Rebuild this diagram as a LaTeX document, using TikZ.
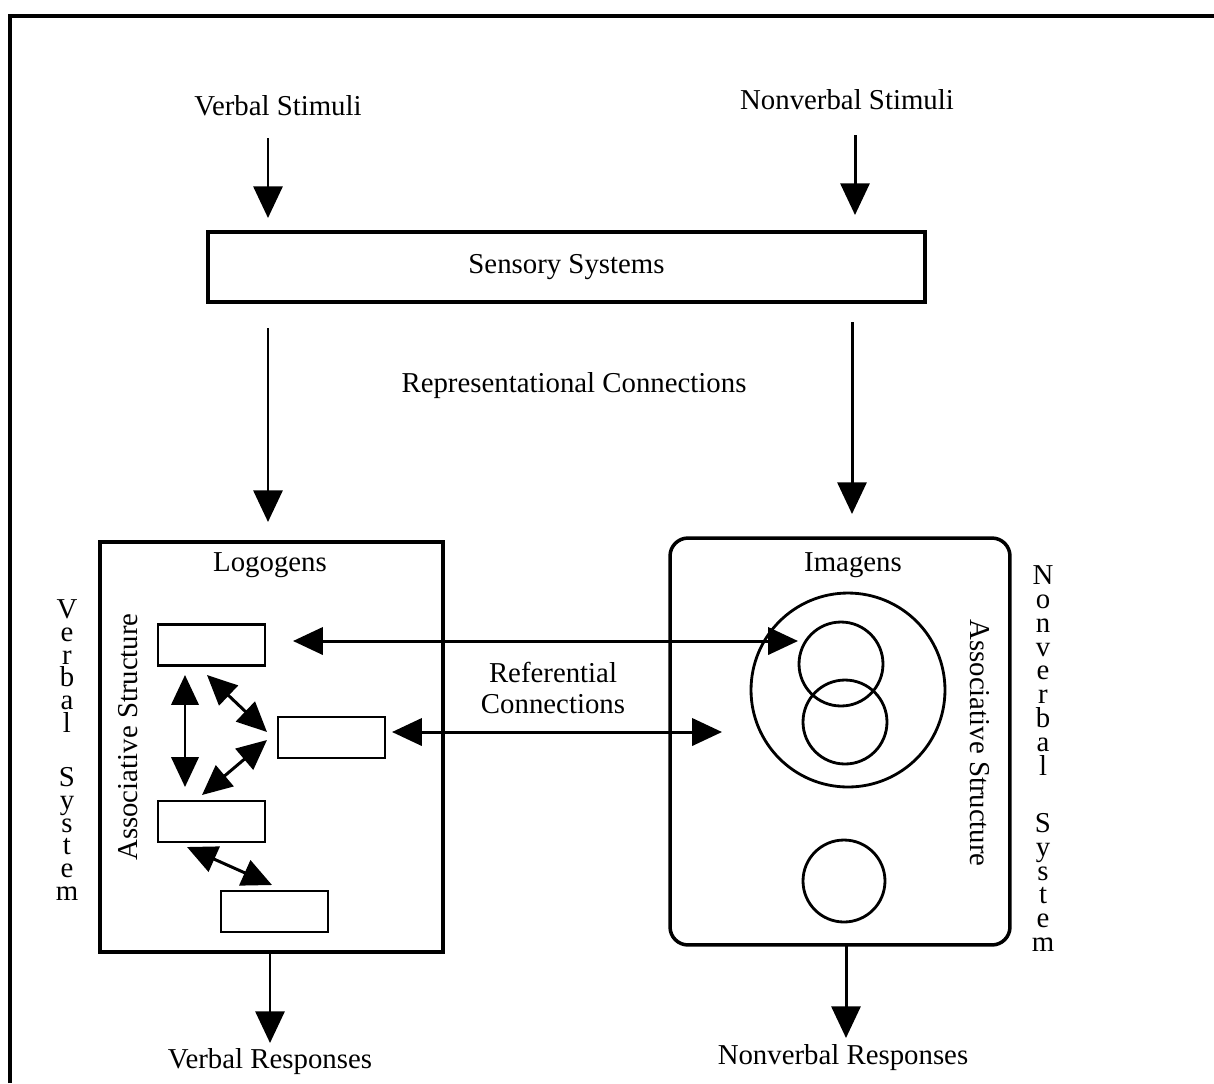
\documentclass[tikz,border=0pt]{standalone}
\usepackage{fontspec}
\setmainfont{Liberation Serif}
\usetikzlibrary{arrows.meta}
\begin{document}
\begin{tikzpicture}[x=0.02cm, y=-0.02cm, line width=1.7pt,
  font=\fontsize{16.4}{17.6}\selectfont,
  arr/.style={-{Triangle[length=18pt, width=16.5pt]}},
  darr/.style={{Triangle[length=17pt, width=15.5pt]}-{Triangle[length=17pt, width=15.5pt]}},
  unit/.style={draw, line width=1.6pt, minimum width=2.14cm, minimum height=0.82cm, inner sep=0pt},
  imagen/.style={circle, draw, line width=1.6pt, inner sep=0pt},
  column/.style={anchor=north, align=center, inner sep=0pt}]
  \useasboundingbox (0,0) rectangle (1214,1083);
  % Rahmen
  \draw[line width=2.3pt] (10,1083) -- (10,16) -- (1214,16);
  % Reize und sensorisches System
  \node (vstim) at (278,106) {Verbal Stimuli};
  \node (nstim) at (847,100) {Nonverbal Stimuli};
  \node[draw, line width=1.9pt, minimum width=14.34cm, minimum height=1.4cm] (sens) at (566.5,267) {Sensory Systems};
  \coordinate (v1) at (268,138);
  \coordinate (v2) at (268,218);
  \coordinate (n1) at (855,135);
  \coordinate (n2) at (855,215);
  \draw[arr] (v1) -- (v2);
  \draw[arr] (n1) -- (n2);
  \coordinate (r1) at (268,328);
  \coordinate (r2) at (268,522);
  \coordinate (r3) at (852,322);
  \coordinate (r4) at (852,514);
  \draw[arr] (r1) -- (r2);
  \draw[arr] (r3) -- (r4);
  \node (repc) at (574,386) {Representational Connections};
  % verbales System
  \node[draw, line width=2pt, minimum width=6.86cm, minimum height=8.2cm] (logo) at (271.5,747) {};
  \node (logoL) at (270,565) {Logogens};
  \node[rotate=90] (assocL) at (128,737) {Associative Structure};
  \node[unit] (u1) at (211.5,645) {};
  \node[unit] (u2) at (331.5,737.5) {};
  \node[unit] (u3) at (211.5,821.5) {};
  \node[unit] (u4) at (274.5,911.5) {};
  \coordinate (a1) at (185,675);
  \coordinate (a2) at (185,787);
  \coordinate (a3) at (207,675);
  \coordinate (a4) at (267,732);
  \coordinate (a5) at (267,740);
  \coordinate (a6) at (202,795);
  \coordinate (a7) at (187,847);
  \coordinate (a8) at (272,885);
  \draw[darr] (a1) -- (a2);
  \draw[darr] (a3) -- (a4);
  \draw[darr] (a5) -- (a6);
  \draw[darr] (a7) -- (a8);
  \node[column, font=\fontsize{16.4}{13}\selectfont] (vsys) at (67,598)
    {V\\e\\r\\b\\a\\l\\[17.6pt]S\\y\\s\\t\\e\\m};
  % nonverbales System
  \node[draw, line width=2pt, rounded corners=0.36cm, minimum width=6.8cm, minimum height=8.14cm] (imag) at (840,741.5) {};
  \node (imagL) at (853,565) {Imagens};
  \node[rotate=-90] (assocR) at (980,743) {Associative Structure};
  \node[imagen, minimum size=3.88cm] (ibig) at (848,690) {};
  \node[imagen, minimum size=1.68cm] (iup) at (841,664) {};
  \node[imagen, minimum size=1.68cm] (ilow) at (845,722) {};
  \node[imagen, minimum size=1.64cm] (ibot) at (844,881) {};
  \node[column, font=\fontsize{16.4}{13.6}\selectfont] (nsys) at (1043,564)
    {N\\o\\n\\v\\e\\r\\b\\a\\l\\[18.7pt]S\\y\\s\\t\\e\\m};
  % referentielle Verbindungen
  \coordinate (f1) at (293,641);
  \coordinate (f2) at (798,641);
  \coordinate (f3) at (392,732);
  \coordinate (f4) at (722,732);
  \draw[darr] (f1) -- (f2);
  \draw[darr] (f3) -- (f4);
  \node[align=center] (refc) at (553,688) {Referential\\Connections};
  % Reaktionen
  \coordinate (o1) at (270,1043);
  \coordinate (o2) at (846,945);
  \coordinate (o3) at (846,1038);
  \draw[arr] (logo.south -| o1) -- (o1);
  \draw[arr] (o2) -- (o3);
  \node (vresp) at (270,1062) {Verbal Responses};
  \node (nresp) at (843,1058) {Nonverbal Responses};
\end{tikzpicture}
\end{document}
